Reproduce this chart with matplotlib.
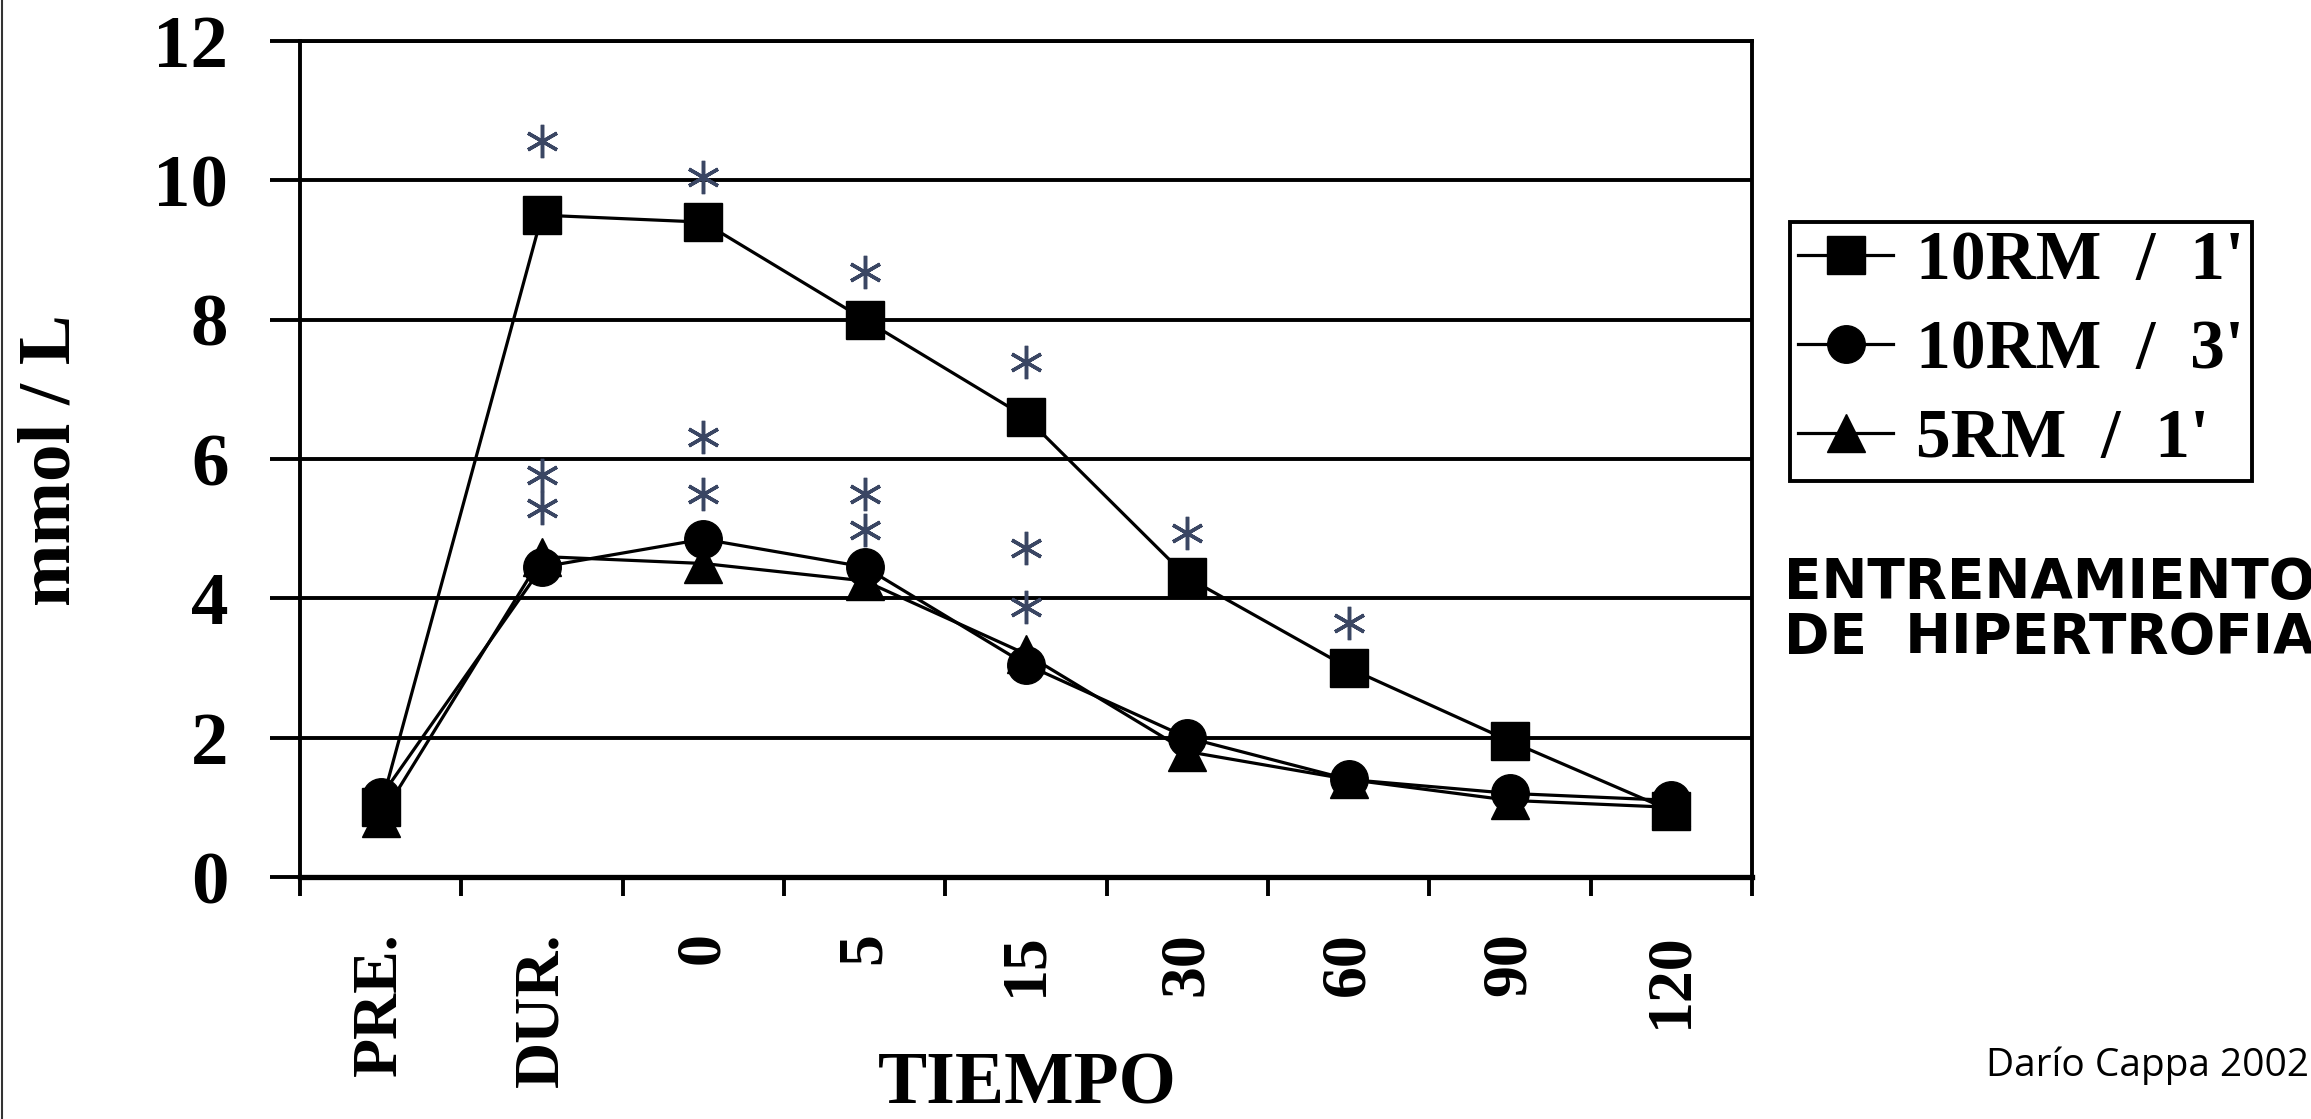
import numpy as np
import matplotlib
matplotlib.use("Agg")
import matplotlib.pyplot as plt
from matplotlib.lines import Line2D

# ---------------- data ----------------
categories = ["PRE.", "DUR.", "0", "5", "15", "30", "60", "90", "120"]
series_names = ["10RM  /  1'", "10RM  /  3'", "5RM  /  1'"]
rm10_1 = [1.0, 9.5, 9.4, 8.0, 6.6, 4.3, 3.0, 1.95, 0.95]
rm10_3 = [1.15, 4.45, 4.85, 4.45, 3.05, 2.0, 1.4, 1.2, 1.1]
rm5_1 = [0.85, 4.6, 4.5, 4.25, 3.2, 1.8, 1.4, 1.1, 1.0]
# significance asterisks (category index, y value)
ast_cat = [1, 1, 1, 2, 2, 2, 3, 3, 3, 4, 4, 4, 5, 6]
ast_val = [10.56, 5.77, 5.29, 10.05, 6.32, 5.5, 8.68, 5.5, 4.98, 7.39, 4.72, 3.87, 4.94, 3.65]
yticks = [0, 2, 4, 6, 8, 10, 12]

W, H = 2311, 1119
fig = plt.figure(figsize=(W / 100, H / 100), dpi=100)
fig.patch.set_facecolor("white")

serif = "Liberation Serif"

ax_left, ax_right, ax_top, ax_bot = 300, 1752, 41, 877
ax = fig.add_axes([ax_left / W, 1 - ax_bot / H, (ax_right - ax_left) / W, (ax_bot - ax_top) / H])

x = np.arange(len(categories))
lw = 2.3
ax.plot(x, rm5_1, marker="^", color="black", lw=lw, ms=28, zorder=4, label=series_names[2])
ax.plot(x, rm10_3, marker="o", color="black", lw=lw, ms=27, zorder=5, label=series_names[1])
ax.plot(x, rm10_1, marker="s", color="black", lw=lw, ms=28, zorder=6, label=series_names[0])

ax.plot([x[i] for i in ast_cat], ast_val, linestyle="none", marker=(6, 2, 0),
        ms=24, mew=2.5, color="#3a4663", zorder=7)

ax.set_xlim(-0.5, len(categories) - 0.5)
ax.set_ylim(0, 12)
ax.set_yticks(yticks)
ax.set_yticklabels([str(v) for v in yticks], fontfamily=serif, fontweight="bold", fontsize=54)
ax.yaxis.grid(True, color="black", lw=2.8, zorder=1)
ax.set_axisbelow(True)

ax.set_xticks(np.arange(-0.5, len(categories), 1.0))
ax.set_xticklabels([])
ax.set_xticks(x, minor=True)
ax.set_xticklabels(categories, minor=True, rotation=90, fontfamily=serif,
                   fontweight="bold", fontsize=46, va="top", ha="center")
ax.tick_params(axis="x", which="major", length=14, width=2.8, direction="out")
ax.tick_params(axis="x", which="minor", length=0, pad=40)
ax.tick_params(axis="y", length=21.5, width=2.8, direction="out", pad=30)

for s in ["left", "right", "top"]:
    ax.spines[s].set_linewidth(2.8)
ax.spines["bottom"].set_linewidth(3.8)

# axis titles
fig.text(52 / W, 1 - 460 / H, "mmol / L", rotation=90, ha="center", va="center",
         fontfamily=serif, fontweight="bold", fontsize=54)
fig.text(1027 / W, 1 - 1086 / H, "TIEMPO", ha="center", va="center",
         fontfamily=serif, fontweight="bold", fontsize=53)

# legend
handles, labels = ax.get_legend_handles_labels()
order = [2, 1, 0]
leg = ax.legend([handles[i] for i in order], [labels[i] for i in order],
                loc="upper left", bbox_to_anchor=(1790 / W, 1 - 222 / H),
                bbox_transform=fig.transFigure, borderaxespad=0,
                prop={"family": serif, "weight": "bold", "size": 50},
                handlelength=1.37, handletextpad=0.32, labelspacing=0.36,
                borderpad=0.12, fancybox=False, framealpha=1, edgecolor="black")
leg.get_frame().set_linewidth(2.8)

# side annotation
fig.text(1784 / W, 1 - 583 / H, "ENTRENAMIENTO", ha="left", va="center",
         fontfamily="DejaVu Sans", fontweight="bold", fontsize=39.5)
fig.text(1784 / W, 1 - 638 / H, "DE  HIPERTROFIA", ha="left", va="center",
         fontfamily="DejaVu Sans", fontweight="bold", fontsize=39.5)

# credit
fig.text((W - 2) / W, 1 - 1076 / H, "Darío Cappa 2002", ha="right", va="baseline",
         fontfamily="Open Sans", fontsize=28)

# left border line of the image
fig.add_artist(Line2D([2 / W, 2 / W], [0, 1], transform=fig.transFigure,
                      color="#333333", lw=1.5))

fig.savefig("out.png", dpi=100, facecolor="white")
